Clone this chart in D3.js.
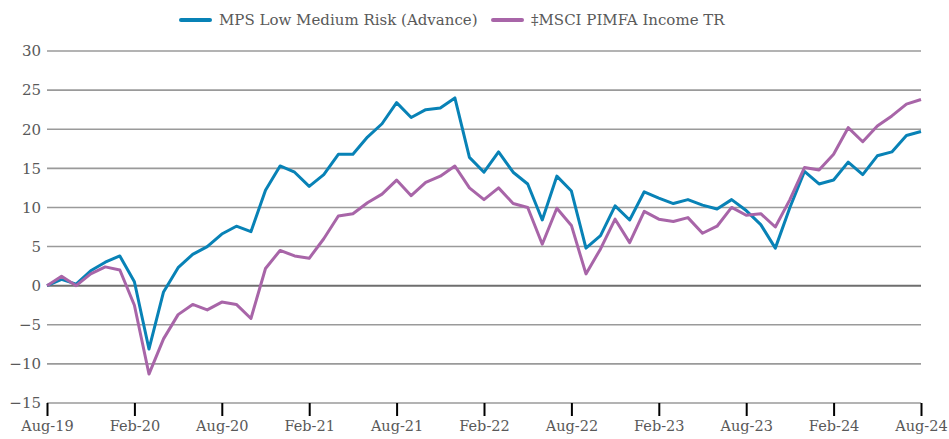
<!DOCTYPE html>
<html>
<head>
<meta charset="utf-8">
<script src="https://cdn.jsdelivr.net/npm/d3@7"></script>
<style>
  body { margin: 0; background: #fff; }
  svg text { font-family: "DejaVu Serif", "Liberation Serif", serif; fill: #595959; }
</style>
</head>
<body>
<script>
var w = 949;
var h = 439;

// monthly, Aug-19 .. Aug-24
var fmt = d3.timeFormat('%b-%y');
var months = d3.timeMonth.range(new Date(2019, 7, 1), new Date(2024, 8, 1)).map(fmt);
var seriesNames = ['MPS Low Medium Risk (Advance)', '\u2021MSCI PIMFA Income TR'];
var seriesColors = ['#0882b6', '#a865a8'];

var mpsValues = [0, 0.8, 0.2, 1.9, 3.0, 3.8, 0.5, -8.1, -0.8, 2.3,
	4.0, 5.0, 6.6, 7.6, 6.9, 12.2, 15.3, 14.5, 12.7, 14.2,
	16.8, 16.8, 19.0, 20.7, 23.4, 21.5, 22.5, 22.7, 24.0, 16.4,
	14.5, 17.1, 14.5, 13.0, 8.4, 14.0, 12.1, 4.8, 6.4, 10.2,
	8.4, 12.0, 11.2, 10.5, 11.0, 10.3, 9.8, 11.0, 9.6, 7.8,
	4.8, 10.0, 14.6, 13.0, 13.5, 15.8, 14.2, 16.6, 17.1, 19.2, 19.7];
var msciValues = [0, 1.2, 0.0, 1.5, 2.4, 2.0, -2.5, -11.3, -6.8, -3.7,
	-2.4, -3.1, -2.1, -2.4, -4.2, 2.2, 4.5, 3.8, 3.5, 6.0,
	8.9, 9.2, 10.6, 11.7, 13.5, 11.5, 13.2, 14.0, 15.3, 12.5,
	11.0, 12.5, 10.5, 10.0, 5.3, 9.9, 7.7, 1.5, 4.7, 8.5,
	5.5, 9.5, 8.5, 8.2, 8.7, 6.7, 7.6, 10.0, 9.0, 9.2,
	7.5, 11.0, 15.1, 14.8, 16.8, 20.2, 18.4, 20.4, 21.7, 23.2, 23.8];
var yTicks = [-15, -10, -5, 0, 5, 10, 15, 20, 25, 30];
var xTickLabels = ['Aug-19', 'Feb-20', 'Aug-20', 'Feb-21', 'Aug-21', 'Feb-22',
	'Aug-22', 'Feb-23', 'Aug-23', 'Feb-24', 'Aug-24'];

var margin = { left: 47, right: 28, top: 51, bottom: 36 };

var svg = d3.select('body')
	.append('svg')
	.attr('width', w)
	.attr('height', h);

var x = d3.scalePoint()
	.domain(months)
	.range([margin.left, w - margin.right]);

var y = d3.scaleLinear()
	.domain([-15, 30])
	.range([h - margin.bottom, margin.top]);

// gridlines
svg.append('g')
	.selectAll('line')
	.data(yTicks)
	.enter()
	.append('line')
	.attr('x1', margin.left)
	.attr('x2', w - margin.right)
	.attr('y1', function(d) { return y(d); })
	.attr('y2', function(d) { return y(d); })
	.attr('stroke', function(d) { return d === 0 ? '#6e6e6e' : '#9a9a9a'; })
	.attr('stroke-width', function(d) { return d === 0 ? 2 : 1.6; });

// y labels
var yAxis = svg.append('g')
	.attr('transform', 'translate(' + (margin.left - 6) + ',0)')
	.call(d3.axisLeft(y).tickValues(yTicks).tickSize(0).tickPadding(0));
yAxis.select('.domain').remove();
yAxis.selectAll('text')
	.style('font-size', '15px')
	.attr('fill', '#595959');

// x axis ticks & labels
var xAxis = svg.append('g')
	.attr('transform', 'translate(0,' + y(-15) + ')')
	.call(d3.axisBottom(x).tickValues(xTickLabels).tickSize(13).tickPadding(5));
xAxis.select('.domain').remove();
xAxis.selectAll('.tick line')
	.attr('stroke', '#000')
	.attr('stroke-width', 2);
xAxis.selectAll('text')
	.style('font-size', '14.5px')
	.attr('fill', '#595959');

// lines
var line = d3.line()
	.x(function(d, i) { return x(months[i]); })
	.y(function(d) { return y(d); });

[mpsValues, msciValues].forEach(function(vals, k) {
	svg.append('path')
		.datum(vals)
		.attr('d', line)
		.attr('fill', 'none')
		.attr('stroke', seriesColors[k])
		.attr('stroke-width', 3)
		.attr('stroke-linejoin', 'round');
});

// legend
var legendX = [181, 493];
var legend = svg.selectAll('.legend')
	.data(seriesNames)
	.enter()
	.append('g')
	.attr('class', 'legend')
	.attr('transform', function(d, i) { return 'translate(' + legendX[i] + ',20)'; });
legend.append('line')
	.attr('x1', 0)
	.attr('x2', 29)
	.attr('stroke', function(d, i) { return seriesColors[i]; })
	.attr('stroke-width', 4)
	.attr('stroke-linecap', 'round');
legend.append('text')
	.attr('x', 38)
	.attr('dy', '0.35em')
	.style('font-size', '15px')
	.text(function(d) { return d; });
</script>
</body>
</html>
